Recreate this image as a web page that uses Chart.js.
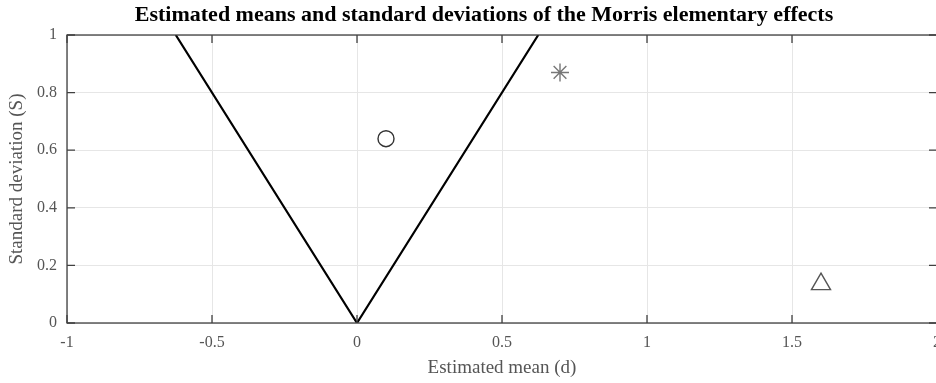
<!DOCTYPE html>
<html>
<head>
<meta charset="utf-8">
<script src="https://cdn.jsdelivr.net/npm/chart.js@4/dist/chart.umd.min.js"></script>
<style>
  html, body { margin: 0; padding: 0; background: #fff; overflow: hidden; }
  #wrap { width: 1004px; height: 383px; }
</style>
</head>
<body>
<div id="wrap"><canvas id="c" width="1004" height="383"></canvas></div>
<script>
// Estimated Morris elementary effects: mean (d) and standard deviation (S) per factor
const factorMeans = [0.1, 0.7, 1.6];
const factorStds  = [0.64, 0.87, 0.135];
const factorMarkers = ['circle', 'star', 'triangle'];

// Wedge boundary S = ±slope * d
const wedgeX = [-0.625, 0, 0.625];
const wedgeY = [1, 0, 1];

// Axis ticks
const xTicks = [-1, -0.5, 0, 0.5, 1, 1.5, 2];
const xTickLabels = ['-1', '-0.5', '0', '0.5', '1', '1.5', '2'];
const yTicks = [0, 0.2, 0.4, 0.6, 0.8, 1];
const yTickLabels = ['0', '0.2', '0.4', '0.6', '0.8', '1'];

const chartTitle = 'Estimated means and standard deviations of the Morris elementary effects';

const SERIF = '"Liberation Serif", "DejaVu Serif", serif';
const LABEL_GREY = '#555555';
const AXIS_GREY = '#404040';

const markerStyles = [
  { radius: 8, color: '#333333' },
  { radius: 9, color: '#777777' },
  { radius: 11, color: '#555555' }
];

const pointDatasets = factorMeans.map((m, i) => ({
  type: 'scatter',
  data: [{ x: m, y: factorStds[i] }],
  pointStyle: factorMarkers[i],
  pointRadius: markerStyles[i].radius,
  pointHoverRadius: markerStyles[i].radius,
  pointBorderColor: markerStyles[i].color,
  pointBackgroundColor: 'rgba(0,0,0,0)',
  pointBorderWidth: 1.4
}));

// Box around the axes with inward tick marks on all four sides, plus the title
const boxTicks = {
  id: 'boxTicks',
  afterDraw(chart) {
    const { ctx, chartArea: a, scales } = chart;
    const len = 8;
    ctx.save();
    ctx.strokeStyle = AXIS_GREY;
    ctx.lineWidth = 1.3;
    ctx.strokeRect(a.left, a.top, a.right - a.left, a.bottom - a.top);
    ctx.beginPath();
    xTicks.forEach(v => {
      const px = scales.x.getPixelForValue(v);
      ctx.moveTo(px, a.bottom); ctx.lineTo(px, a.bottom - len);
      ctx.moveTo(px, a.top); ctx.lineTo(px, a.top + len);
    });
    yTicks.forEach(v => {
      const py = scales.y.getPixelForValue(v);
      ctx.moveTo(a.left, py); ctx.lineTo(a.left + len, py);
      ctx.moveTo(a.right, py); ctx.lineTo(a.right - len, py);
    });
    ctx.stroke();

    ctx.fillStyle = '#000000';
    ctx.font = 'bold 22px ' + SERIF;
    ctx.textAlign = 'center';
    ctx.textBaseline = 'middle';
    ctx.fillText(chartTitle, 484, 15);
    ctx.restore();
  }
};

new Chart(document.getElementById('c'), {
  data: {
    datasets: [
      {
        type: 'line',
        data: wedgeX.map((x, i) => ({ x, y: wedgeY[i] })),
        borderColor: '#000000',
        borderWidth: 2.2,
        pointRadius: 0,
        fill: false,
        tension: 0
      },
      ...pointDatasets
    ]
  },
  options: {
    responsive: false,
    animation: false,
    events: [],
    layout: { padding: { left: 0, right: 67, top: 35, bottom: 0 } },
    plugins: {
      legend: { display: false },
      tooltip: { enabled: false },
      title: { display: false }
    },
    scales: {
      x: {
        type: 'linear',
        min: -1, max: 2,
        afterBuildTicks: s => { s.ticks = xTicks.map(v => ({ value: v })); },
        afterFit: s => { s.height = 60; },
        grid: { color: '#e6e6e6', lineWidth: 1, drawTicks: false },
        border: { display: false },
        ticks: {
          padding: 10,
          color: LABEL_GREY,
          font: { family: SERIF, size: 16 },
          maxRotation: 0,
          callback: (v) => xTickLabels[xTicks.indexOf(v)]
        },
        title: {
          display: true,
          text: 'Estimated mean (d)',
          color: LABEL_GREY,
          font: { family: SERIF, size: 19 },
          padding: { top: 0 }
        }
      },
      y: {
        type: 'linear',
        min: 0, max: 1,
        afterBuildTicks: s => { s.ticks = yTicks.map(v => ({ value: v })); },
        afterFit: s => { s.width = 67; },
        grid: { color: '#e6e6e6', lineWidth: 1, drawTicks: false },
        border: { display: false },
        ticks: {
          padding: 10,
          color: LABEL_GREY,
          font: { family: SERIF, size: 16 },
          callback: (v) => yTickLabels[yTicks.indexOf(v)]
        },
        title: {
          display: true,
          text: 'Standard deviation (S)',
          color: LABEL_GREY,
          font: { family: SERIF, size: 19 },
          padding: { top: 6, bottom: 0 }
        }
      }
    }
  },
  plugins: [boxTicks]
});
</script>
</body>
</html>
